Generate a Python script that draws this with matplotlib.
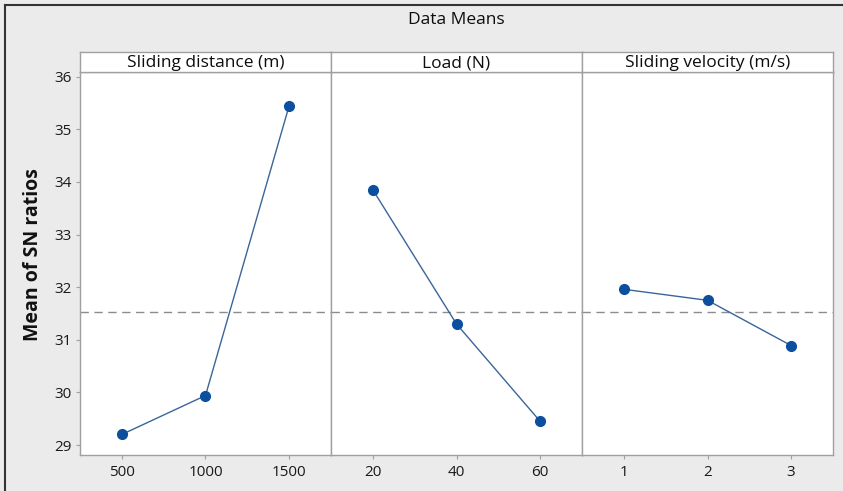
import numpy as np
import matplotlib.pyplot as plt
from matplotlib.lines import Line2D

# main effects for SN ratios
factor_names = ["Sliding distance (m)", "Load (N)", "Sliding velocity (m/s)"]
distance_levels = [500, 1000, 1500]
distance_sn = [29.20, 29.94, 35.45]
load_levels = [20, 40, 60]
load_sn = [33.85, 31.30, 29.45]
velocity_levels = [1, 2, 3]
velocity_sn = [31.96, 31.75, 30.89]
grand_mean = 31.53
y_ticks = [29, 30, 31, 32, 33, 34, 35, 36]

plt.rcParams["font.family"] = ["Open Sans", "DejaVu Sans"]

BG = "#ebebeb"
EDGE = "#a0a0a0"
BLUE = "#0b4f9e"
LINE = "#3a6598"

fig = plt.figure(figsize=(8.43, 4.91), dpi=100, facecolor=BG)

W, H = 843, 491
left, right = 80, 833
top, bottom = 72, 455
strip_top = 52
pw = (right - left) / 3

levels = [distance_levels, load_levels, velocity_levels]
values = [distance_sn, load_sn, velocity_sn]

axes = []
for i in range(3):
    x0 = left + i * pw
    ax = fig.add_axes([x0 / W, 1 - bottom / H, pw / W, (bottom - top) / H])
    lv = levels[i]
    step = lv[1] - lv[0]
    ax.plot(lv, values[i], color=LINE, lw=1.0, zorder=2)
    ax.plot(lv, values[i], "o", color=BLUE, ms=7, zorder=3)
    ax.axhline(grand_mean, color="#8c8c8c", lw=1.0, ls=(0, (6, 4)), zorder=1)
    ax.set_xlim(lv[0] - step / 2, lv[-1] + step / 2)
    ax.set_ylim(28.81, 36.09)
    ax.set_xticks(lv)
    ax.set_xticklabels([str(v) for v in lv], fontsize=11, color="#1a1a1a")
    ax.set_yticks(y_ticks)
    if i == 0:
        ax.set_yticklabels([str(v) for v in y_ticks], fontsize=11, color="#1a1a1a")
        ax.tick_params(axis="y", length=3, width=0.8, color=EDGE, pad=3)
    else:
        ax.tick_params(axis="y", length=0, labelleft=False)
    ax.tick_params(axis="x", length=3, width=0.8, color=EDGE, pad=4)
    ax.set_facecolor("white")
    for s in ax.spines.values():
        s.set_color(EDGE)
        s.set_linewidth(1.0)
    axes.append(ax)

    # strip header
    sx = fig.add_axes([x0 / W, 1 - top / H, pw / W, (top - strip_top) / H])
    sx.set_facecolor("white")
    sx.set_xticks([])
    sx.set_yticks([])
    for s in sx.spines.values():
        s.set_color(EDGE)
        s.set_linewidth(1.0)
    sx.text(0.5, 0.45, factor_names[i], ha="center", va="center",
            fontsize=12.5, color="#0d0d0d", transform=sx.transAxes)

fig.text(33 / W, 1 - 255 / H, "Mean of SN ratios", rotation=90, ha="center",
         va="center", fontsize=14, fontweight="bold", color="#111111")

fig.text(0.5 * (left + right) / W, 1 - 20 / H, "Data Means", ha="center",
         va="center", fontsize=12.5, color="#0d0d0d")

# outer frame (left and top edges)
fig.add_artist(Line2D([4.5 / W, 4.5 / W], [0, 1 - 4.5 / H], color="#333333",
                      lw=1.5, transform=fig.transFigure))
fig.add_artist(Line2D([4.5 / W, 1], [1 - 4.5 / H, 1 - 4.5 / H], color="#333333",
                      lw=1.5, transform=fig.transFigure))

fig.savefig("out.png", dpi=100, facecolor=BG)
